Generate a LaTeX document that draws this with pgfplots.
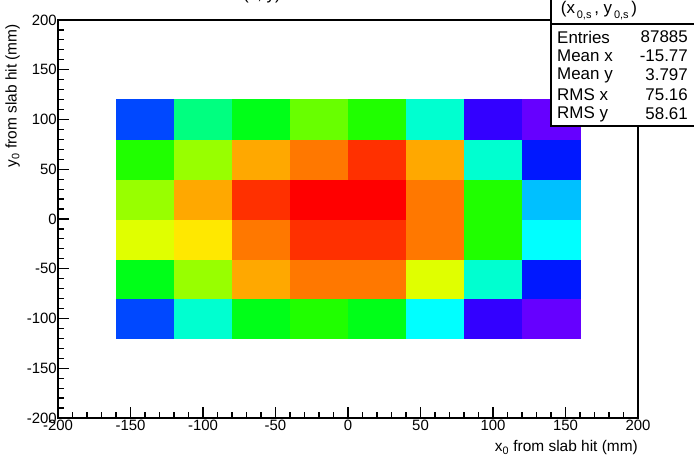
\documentclass[border=0pt]{standalone}
\usepackage{pgfplots}
\pgfplotsset{compat=1.18}
\usepackage{fontspec}
\setmainfont{Liberation Sans}
\begin{document}
\begin{tikzpicture}[x=1bp,y=1bp]
\begin{axis}[
  at={(0,0)}, anchor=south west,
  scale only axis, width=580bp, height=398bp,
  xmin=-200, xmax=200, ymin=-200, ymax=200,
  xtick={-200,-150,...,200}, ytick={-200,-150,...,200},
  minor tick num=4,
  xtick pos=bottom, ytick pos=left,
  tick align=inside,
  major tick length=11bp, minor tick length=5.5bp,
  axis line style={line width=1.5bp},
  every tick/.style={black, line width=1.2bp},
  tick label style={font=\fontsize{15}{17}\selectfont},
  /pgf/number format/assume math mode=true,
  xticklabel style={inner sep=1bp, yshift=-1bp},
  yticklabel style={inner sep=1bp},
  label style={font=\fontsize{15.5}{17}\selectfont},
  xlabel={x\textsubscript{0} from slab hit (mm)},
  xlabel style={at={(axis description cs:1,-0.085)}, anchor=base east, inner sep=0pt},
  ylabel={y\textsubscript{0} from slab hit (mm)},
  ylabel style={at={(axis description cs:-0.078,0.99)}, anchor=east, inner sep=0pt},
  colormap={root}{rgb255=(102,0,255) rgb255=(51,0,255) rgb255=(0,24,255) rgb255=(0,72,255) rgb255=(0,192,255) rgb255=(0,255,255) rgb255=(0,255,208) rgb255=(0,255,128) rgb255=(0,255,24) rgb255=(32,255,0) rgb255=(104,255,0) rgb255=(152,255,0) rgb255=(224,255,0) rgb255=(255,232,0) rgb255=(255,168,0) rgb255=(255,120,0) rgb255=(255,48,0) rgb255=(255,0,0)},
  colormap access=direct,
  axis on top,
]
\addplot[matrix plot*, mesh/cols=8, mesh/rows=6, point meta=explicit] table[meta=c] {
x y c
-140 -100 3
-100 -100 6
-60 -100 8
-20 -100 9
20 -100 8
60 -100 5
100 -100 1
140 -100 0
-140 -60 8
-100 -60 11
-60 -60 14
-20 -60 15
20 -60 15
60 -60 12
100 -60 6
140 -60 2
-140 -20 12
-100 -20 13
-60 -20 15
-20 -20 16
20 -20 16
60 -20 15
100 -20 9
140 -20 5
-140 20 11
-100 20 14
-60 20 16
-20 20 17
20 20 17
60 20 15
100 20 9
140 20 4
-140 60 9
-100 60 11
-60 60 14
-20 60 15
20 60 16
60 60 14
100 60 6
140 60 2
-140 100 3
-100 100 7
-60 100 8
-20 100 10
20 100 9
60 100 6
100 100 1
140 100 0
};
\end{axis}
% stats box
\draw[fill=white, line width=1.3bp] (493,292) rectangle (660,425);
\draw[line width=1.2bp] (493,394) -- (660,394);
\node[font=\fontsize{17}{19}\selectfont, inner sep=0pt] at (541,407) {(x\raisebox{-5bp}{\fontsize{11}{11}\selectfont \,0,s}\,, y\raisebox{-5bp}{\fontsize{11}{11}\selectfont \,0,s}\,)};
\begin{scope}[every node/.style={font=\fontsize{17}{19}\selectfont, inner sep=0pt}]
\node[anchor=west] at (499,381) {Entries}; \node[anchor=east] at (630,381) {87885};
\node[anchor=west] at (499,362) {Mean x};  \node[anchor=east] at (630,362) {-15.77};
\node[anchor=west] at (499,343) {Mean y};  \node[anchor=east] at (630,343) {3.797};
\node[anchor=west] at (499,323) {RMS x};   \node[anchor=east] at (630,323) {75.16};
\node[anchor=west] at (499,304) {RMS y};   \node[anchor=east] at (630,304) {58.61};
\end{scope}
% title (cut off at the top)
\node[font=\fontsize{17}{19}\selectfont, anchor=base, inner sep=0pt] at (204,418.5) {(x, y)};
\pgfresetboundingbox
\useasboundingbox (-58,-40) rectangle (636,418);
\end{tikzpicture}
\end{document}
